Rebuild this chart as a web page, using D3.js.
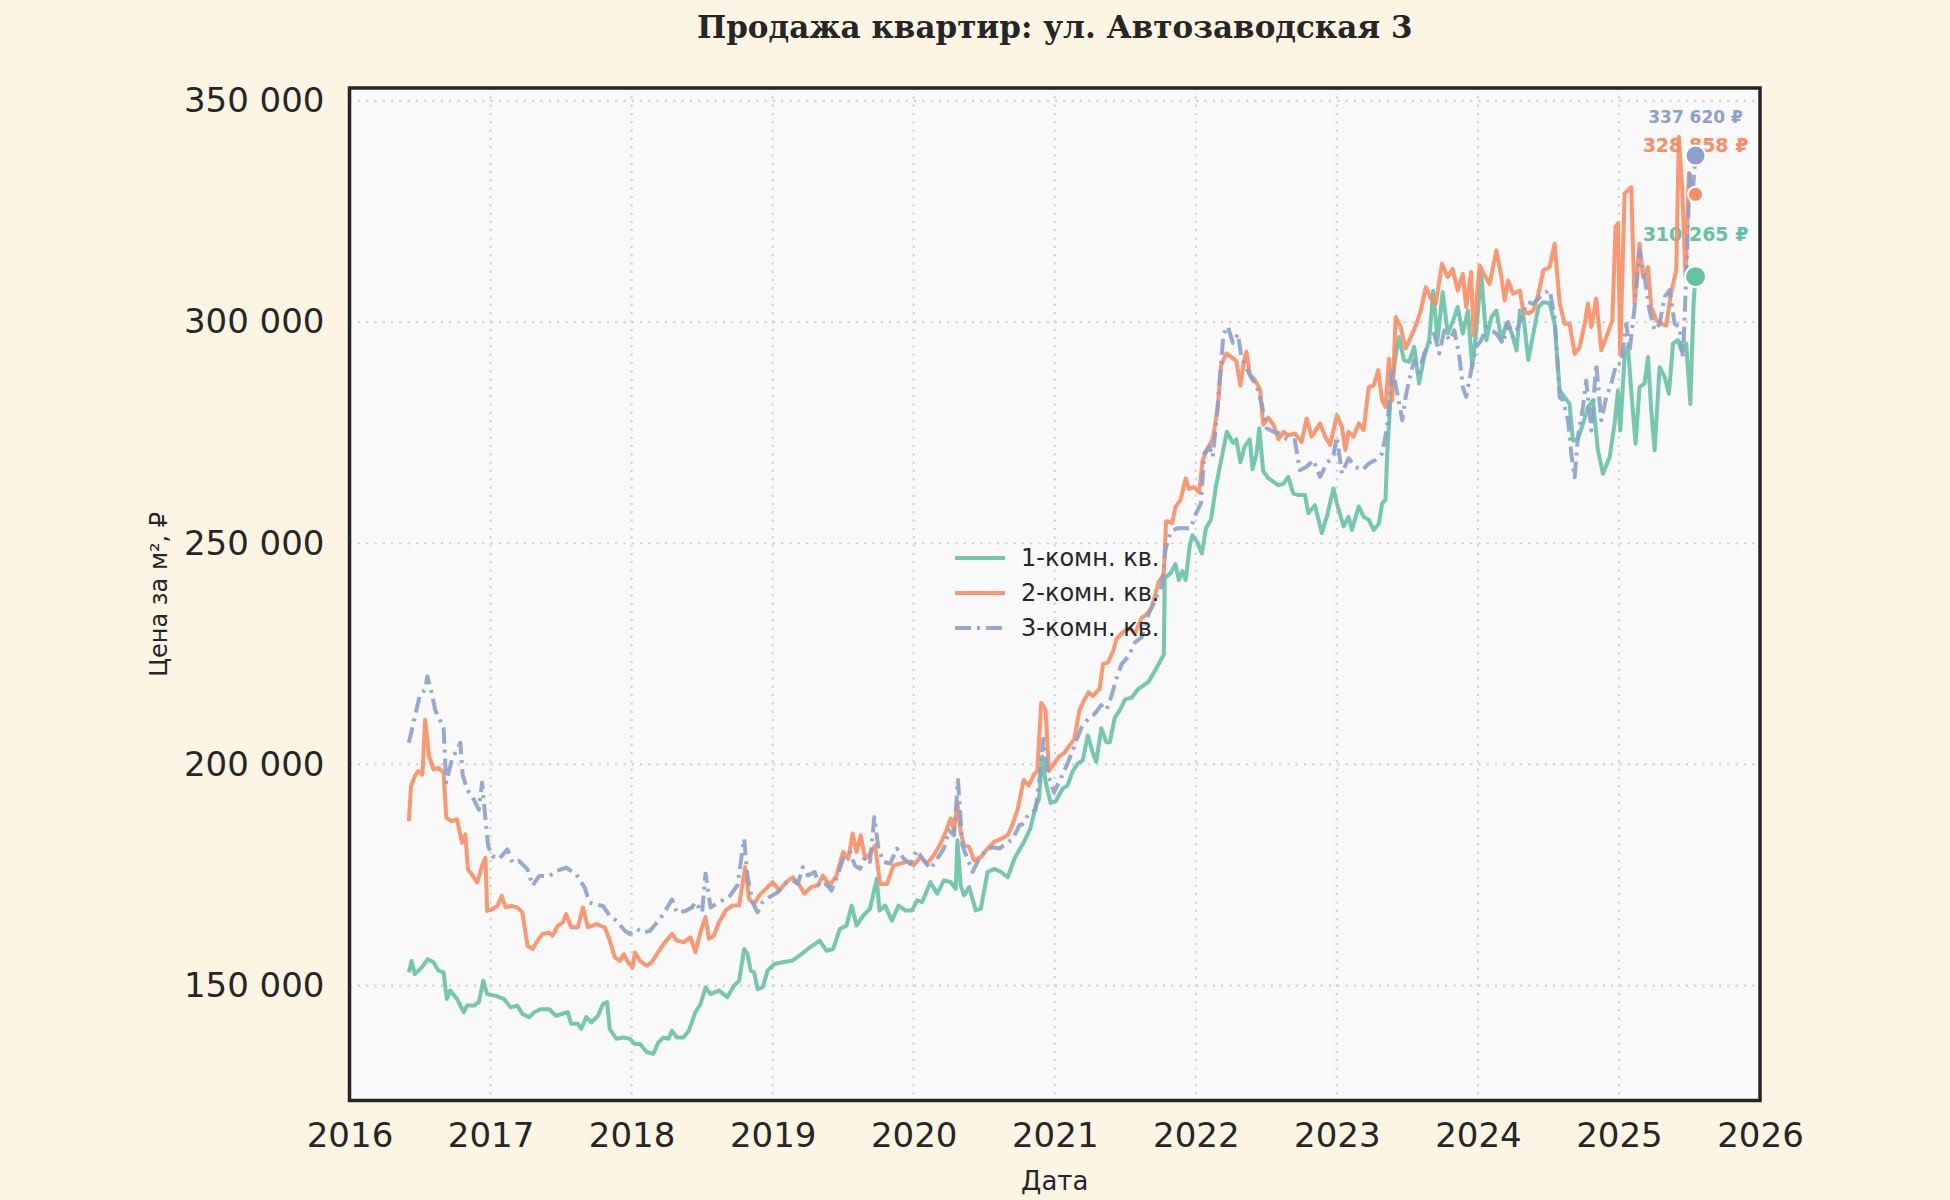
<!DOCTYPE html>
<html lang="ru">
<head>
<meta charset="utf-8">
<title>Продажа квартир: ул. Автозаводская 3</title>
<script src="https://cdn.jsdelivr.net/npm/d3@7"></script>
<style>
  body { margin: 0; background: #fcf5e3; }
  text { font-family: "DejaVu Sans", sans-serif; fill: #262626; }
</style>
</head>
<body>
<div id="chart"></div>
<script>
// --- data (decimal year, price per m2) ---
var seriesNames = ["1-комн. кв.", "2-комн. кв.", "3-комн. кв."];
var yearTicks = [2016, 2017, 2018, 2019, 2020, 2021, 2022, 2023, 2024, 2025, 2026];
var priceTicks = [150000, 200000, 250000, 300000, 350000];

var oneRoom = [
  [2016.421,153000],[2016.440,155600],[2016.464,152600],[2016.512,154100],[2016.555,156000],[2016.595,155300],
  [2016.631,153400],[2016.667,153000],[2016.690,147000],[2016.714,148900],[2016.762,147000],[2016.810,144000],
  [2016.833,145500],[2016.881,145500],[2016.917,146300],[2016.948,151100],[2016.976,148100],[2017.036,147700],
  [2017.095,147000],[2017.143,145100],[2017.190,145500],[2017.226,143600],[2017.274,142900],[2017.310,144000],
  [2017.357,144700],[2017.417,144700],[2017.464,143200],[2017.548,144000],[2017.571,141400],[2017.619,141400],
  [2017.643,140200],[2017.679,142900],[2017.714,141700],[2017.762,143200],[2017.798,145900],[2017.826,146300],
  [2017.845,140200],[2017.893,138000],[2017.940,138300],[2017.988,138000],[2018.024,136800],[2018.060,136800],
  [2018.107,135000],[2018.155,134600],[2018.190,137200],[2018.226,138300],[2018.262,138000],[2018.286,139800],
  [2018.321,138300],[2018.369,138300],[2018.405,139800],[2018.452,144000],[2018.488,145800],[2018.524,149600],
  [2018.560,148100],[2018.619,148900],[2018.679,147400],[2018.726,150000],[2018.762,151100],[2018.798,158300],
  [2018.821,157200],[2018.845,153400],[2018.869,153000],[2018.893,149200],[2018.929,149600],[2018.964,153400],
  [2019.012,154900],[2019.071,155300],[2019.143,155700],[2019.190,156800],[2019.250,158300],[2019.286,159100],
  [2019.333,160200],[2019.381,157900],[2019.429,158300],[2019.476,162800],[2019.524,163600],[2019.560,168100],
  [2019.595,163600],[2019.643,165900],[2019.690,167400],[2019.738,174200],[2019.757,167000],[2019.798,168100],
  [2019.845,164700],[2019.893,168100],[2019.940,167000],[2019.988,167000],[2020.024,169300],[2020.060,168900],
  [2020.119,173400],[2020.167,170800],[2020.214,173800],[2020.262,173400],[2020.298,171900],[2020.310,182900],
  [2020.333,172700],[2020.357,170400],[2020.393,172300],[2020.440,167000],[2020.476,167400],[2020.524,175700],
  [2020.571,176400],[2020.619,175700],[2020.667,174500],[2020.714,178700],[2020.780,182400],[2020.828,185600],
  [2020.864,190500],[2020.888,192100],[2020.911,201800],[2020.935,196100],[2020.971,191300],[2021.007,191700],
  [2021.055,194500],[2021.091,195300],[2021.127,198500],[2021.163,200200],[2021.199,201000],[2021.234,206600],
  [2021.270,202600],[2021.294,200600],[2021.330,208200],[2021.366,205000],[2021.390,205000],[2021.426,210600],
  [2021.462,212300],[2021.498,214700],[2021.545,215100],[2021.593,217100],[2021.629,217900],[2021.665,218700],
  [2021.701,220700],[2021.737,222700],[2021.773,224800],[2021.780,242100],[2021.821,243300],[2021.856,245300],
  [2021.880,241700],[2021.904,243700],[2021.928,241700],[2021.957,249400],[2021.976,251800],[2022.012,250200],
  [2022.043,247700],[2022.072,253400],[2022.108,255400],[2022.144,263100],[2022.179,268700],[2022.220,275200],
  [2022.263,272700],[2022.287,273500],[2022.316,268300],[2022.347,271900],[2022.383,273500],[2022.402,266700],
  [2022.431,270300],[2022.450,276000],[2022.478,266300],[2022.514,264700],[2022.550,263900],[2022.586,263100],
  [2022.622,263500],[2022.655,265000],[2022.690,261300],[2022.726,260900],[2022.774,260900],[2022.798,256800],
  [2022.845,258600],[2022.893,252300],[2022.929,256000],[2022.976,262400],[2023.000,259000],[2023.048,253800],
  [2023.083,256000],[2023.107,253000],[2023.155,258300],[2023.190,256000],[2023.226,255300],[2023.262,253000],
  [2023.298,254500],[2023.321,259000],[2023.345,259800],[2023.357,270300],[2023.381,283100],[2023.412,291400],
  [2023.440,296600],[2023.476,291400],[2023.512,291000],[2023.548,294400],[2023.583,286100],[2023.619,292100],
  [2023.655,295900],[2023.683,307100],[2023.714,295900],[2023.750,306800],[2023.786,297400],[2023.821,300000],
  [2023.857,303400],[2023.893,297400],[2023.929,302600],[2023.960,289800],[2023.988,298100],[2024.024,310900],
  [2024.060,295900],[2024.095,301100],[2024.131,302600],[2024.167,295900],[2024.202,299600],[2024.238,297700],
  [2024.274,293600],[2024.298,302600],[2024.321,301900],[2024.357,291400],[2024.393,297400],[2024.429,303400],
  [2024.464,304500],[2024.509,304200],[2024.544,299600],[2024.580,284500],[2024.615,283000],[2024.650,281500],
  [2024.674,273200],[2024.709,273600],[2024.745,277000],[2024.780,280800],[2024.816,282300],[2024.851,271000],
  [2024.887,265700],[2024.934,269500],[2024.969,277000],[2024.993,284500],[2025.009,275500],[2025.040,292100],
  [2025.064,294400],[2025.087,284500],[2025.118,272500],[2025.146,285300],[2025.182,286100],[2025.206,292100],
  [2025.229,280000],[2025.253,271000],[2025.288,289800],[2025.324,287600],[2025.354,283800],[2025.383,295100],
  [2025.418,295900],[2025.442,293600],[2025.477,295100],[2025.506,281500],[2025.529,304200],[2025.543,310265]
];

var twoRoom = [
  [2016.421,187200],[2016.436,195100],[2016.464,197400],[2016.488,198500],[2016.517,197700],[2016.536,210100],
  [2016.564,201900],[2016.595,198900],[2016.631,199200],[2016.667,198100],[2016.686,188000],[2016.726,187200],
  [2016.762,187600],[2016.798,182300],[2016.821,184200],[2016.840,176300],[2016.874,174800],[2016.905,173300],
  [2016.940,177100],[2016.964,178900],[2016.976,166900],[2017.012,167300],[2017.048,168000],[2017.079,170300],
  [2017.107,167700],[2017.143,168000],[2017.190,167700],[2017.226,166500],[2017.262,159000],[2017.298,158300],
  [2017.333,160200],[2017.369,161700],[2017.417,162000],[2017.440,161300],[2017.476,163500],[2017.512,164300],
  [2017.536,166200],[2017.571,163200],[2017.619,163200],[2017.655,167700],[2017.690,163200],[2017.750,163900],
  [2017.810,163200],[2017.845,160200],[2017.881,156400],[2017.917,155600],[2017.945,157100],[2017.976,155300],
  [2018.007,154100],[2018.024,157500],[2018.060,155600],[2018.107,154500],[2018.143,155300],[2018.179,157100],
  [2018.226,159400],[2018.286,161700],[2018.321,160200],[2018.369,159800],[2018.417,160900],[2018.452,157600],
  [2018.488,162100],[2018.524,165500],[2018.548,160600],[2018.583,161300],[2018.619,164300],[2018.667,167000],
  [2018.714,168100],[2018.762,168100],[2018.805,176800],[2018.833,169600],[2018.869,168500],[2018.905,170400],
  [2018.952,171900],[2019.000,173400],[2019.048,171500],[2019.095,173400],[2019.143,174500],[2019.190,172700],
  [2019.226,170800],[2019.274,172300],[2019.321,172700],[2019.357,174900],[2019.405,172700],[2019.452,174900],
  [2019.500,180200],[2019.536,178700],[2019.567,184400],[2019.595,180200],[2019.624,184000],[2019.655,178700],
  [2019.690,179800],[2019.726,181700],[2019.762,173000],[2019.810,173000],[2019.857,177200],[2019.905,177600],
  [2019.952,178000],[2020.000,177200],[2020.048,179100],[2020.095,177600],[2020.143,179500],[2020.190,182100],
  [2020.226,184700],[2020.262,187800],[2020.286,185100],[2020.310,191500],[2020.333,184700],[2020.357,181700],
  [2020.393,181300],[2020.429,178300],[2020.476,179100],[2020.524,181000],[2020.571,182500],[2020.619,183200],
  [2020.667,184000],[2020.702,186600],[2020.738,190000],[2020.780,196500],[2020.816,195300],[2020.852,197700],
  [2020.876,198500],[2020.904,213900],[2020.935,212300],[2020.959,198500],[2020.995,200200],[2021.031,201800],
  [2021.067,202600],[2021.103,204200],[2021.139,205800],[2021.175,212300],[2021.211,214700],[2021.239,216300],
  [2021.270,215500],[2021.318,217100],[2021.342,222700],[2021.378,223100],[2021.414,225600],[2021.438,228400],
  [2021.486,230000],[2021.533,230800],[2021.569,229600],[2021.617,233200],[2021.653,234000],[2021.689,235600],
  [2021.737,241300],[2021.773,242900],[2021.789,255000],[2021.833,254600],[2021.856,258200],[2021.892,259800],
  [2021.928,264700],[2021.952,262300],[2021.988,262700],[2022.024,261500],[2022.048,268700],[2022.084,271500],
  [2022.120,273500],[2022.156,280800],[2022.179,290100],[2022.215,292900],[2022.251,292100],[2022.287,291300],
  [2022.316,285600],[2022.340,290900],[2022.359,293300],[2022.383,288100],[2022.419,286900],[2022.455,284800],
  [2022.478,276800],[2022.514,278400],[2022.550,276800],[2022.586,273500],[2022.622,275200],[2022.655,274400],
  [2022.702,274800],[2022.750,272900],[2022.786,278200],[2022.821,274100],[2022.881,277100],[2022.917,274100],
  [2022.952,272200],[2023.000,278900],[2023.036,276300],[2023.060,271100],[2023.083,275200],[2023.119,274100],
  [2023.155,277100],[2023.190,275600],[2023.226,285300],[2023.262,285700],[2023.293,289100],[2023.321,282300],
  [2023.345,280800],[2023.369,291700],[2023.393,282300],[2023.417,301100],[2023.452,298900],[2023.488,294000],
  [2023.524,296600],[2023.560,299200],[2023.595,302600],[2023.631,307900],[2023.667,305300],[2023.702,304100],
  [2023.745,313200],[2023.786,310200],[2023.821,312000],[2023.857,307100],[2023.893,310900],[2023.917,303400],
  [2023.952,311300],[2023.969,297000],[2024.012,312800],[2024.048,310500],[2024.083,308600],[2024.131,316200],
  [2024.167,310200],[2024.190,304900],[2024.214,309400],[2024.250,306400],[2024.298,307100],[2024.321,302600],
  [2024.357,301900],[2024.393,302600],[2024.429,306400],[2024.464,311700],[2024.509,312400],[2024.544,317700],
  [2024.580,304200],[2024.615,299600],[2024.650,299600],[2024.686,292800],[2024.721,294300],[2024.757,299600],
  [2024.780,304200],[2024.804,298900],[2024.839,305300],[2024.875,293600],[2024.910,296600],[2024.953,300400],
  [2024.976,321500],[2024.993,322300],[2025.009,292800],[2025.040,329000],[2025.087,330500],[2025.111,304200],
  [2025.146,317700],[2025.170,310200],[2025.206,312400],[2025.229,303400],[2025.265,300400],[2025.300,299600],
  [2025.335,299200],[2025.371,306800],[2025.406,311700],[2025.425,341900],[2025.449,329800],[2025.472,310200],
  [2025.496,333600],[2025.520,329800],[2025.543,328858]
];

var threeRoom = [
  [2016.421,204900],[2016.464,210900],[2016.500,215800],[2016.536,216900],[2016.552,219900],[2016.583,216200],
  [2016.607,212400],[2016.667,208300],[2016.686,195900],[2016.726,201100],[2016.786,204900],[2016.802,197700],
  [2016.833,194400],[2016.881,192100],[2016.917,189800],[2016.940,195900],[2016.964,187600],[2016.983,181600],
  [2017.012,179300],[2017.060,178600],[2017.119,180800],[2017.155,177800],[2017.202,178200],[2017.262,176300],
  [2017.298,172600],[2017.345,174800],[2017.417,174800],[2017.464,175900],[2017.536,176700],[2017.607,175200],
  [2017.667,172200],[2017.702,168800],[2017.738,168400],[2017.798,168000],[2017.845,165800],[2017.893,164700],
  [2017.952,162400],[2017.988,161700],[2018.036,162800],[2018.083,162000],[2018.131,162400],[2018.179,164300],
  [2018.226,166200],[2018.286,169500],[2018.321,166500],[2018.381,166900],[2018.429,167700],[2018.452,168900],
  [2018.500,166600],[2018.524,175300],[2018.560,167700],[2018.619,168900],[2018.690,170000],[2018.750,172700],
  [2018.798,183200],[2018.821,174900],[2018.857,168900],[2018.893,166600],[2018.929,168900],[2018.976,170000],
  [2019.036,171100],[2019.083,173000],[2019.143,173800],[2019.179,173000],[2019.214,176800],[2019.250,174900],
  [2019.298,175700],[2019.333,172300],[2019.381,173000],[2019.417,171500],[2019.452,174200],[2019.500,178700],
  [2019.548,180200],[2019.583,177200],[2019.619,176400],[2019.655,179100],[2019.690,178000],[2019.721,188100],
  [2019.750,181000],[2019.786,178000],[2019.833,177600],[2019.881,181000],[2019.929,178700],[2019.976,177600],
  [2020.024,180600],[2020.071,178300],[2020.119,176400],[2020.167,178700],[2020.214,181000],[2020.250,185100],
  [2020.286,184000],[2020.314,196500],[2020.345,181700],[2020.381,178700],[2020.417,175700],[2020.464,178700],
  [2020.512,180600],[2020.560,181300],[2020.607,181000],[2020.655,182100],[2020.702,183200],[2020.750,186300],
  [2020.768,186400],[2020.816,188900],[2020.864,189700],[2020.895,197700],[2020.919,205800],[2020.952,197700],
  [2020.995,193700],[2021.043,196900],[2021.091,200200],[2021.139,204200],[2021.187,208200],[2021.234,210200],
  [2021.282,211400],[2021.330,213400],[2021.366,212300],[2021.402,215500],[2021.438,219500],[2021.474,222700],
  [2021.522,224400],[2021.569,227600],[2021.617,228800],[2021.665,234000],[2021.713,237300],[2021.761,240500],
  [2021.785,248600],[2021.821,252600],[2021.868,253400],[2021.916,253400],[2021.964,253400],[2022.000,256600],
  [2022.036,259000],[2022.060,270300],[2022.096,271900],[2022.120,269500],[2022.148,278400],[2022.179,290500],
  [2022.196,297300],[2022.227,299000],[2022.263,295300],[2022.299,297300],[2022.323,292100],[2022.359,289700],
  [2022.395,287300],[2022.431,285600],[2022.467,281600],[2022.502,276000],[2022.550,275200],[2022.598,274800],
  [2022.646,273500],[2022.702,273300],[2022.738,266500],[2022.786,267300],[2022.833,268800],[2022.881,265000],
  [2022.929,268000],[2022.976,269900],[2023.000,274100],[2023.036,265800],[2023.083,269200],[2023.131,267300],
  [2023.179,266500],[2023.226,268000],[2023.274,268800],[2023.321,270300],[2023.357,276300],[2023.393,289800],
  [2023.429,283800],[2023.464,277800],[2023.488,283100],[2023.512,286800],[2023.548,291400],[2023.583,288700],
  [2023.619,292900],[2023.655,295100],[2023.690,297400],[2023.726,292900],[2023.762,298100],[2023.798,295900],
  [2023.833,298100],[2023.869,292100],[2023.893,285300],[2023.917,283100],[2023.952,289100],[2023.988,294400],
  [2024.024,295900],[2024.060,298900],[2024.095,298100],[2024.131,297400],[2024.179,295100],[2024.214,300000],
  [2024.250,296600],[2024.286,298900],[2024.321,302300],[2024.357,304500],[2024.393,304100],[2024.429,305300],
  [2024.464,306400],[2024.509,307200],[2024.544,301100],[2024.580,283000],[2024.603,282300],[2024.639,277800],
  [2024.662,270200],[2024.686,264900],[2024.709,274000],[2024.745,280800],[2024.768,286800],[2024.804,275500],
  [2024.839,290600],[2024.875,277800],[2024.910,283000],[2024.946,286100],[2024.981,290600],[2025.017,290600],
  [2025.052,299600],[2025.076,293600],[2025.111,303400],[2025.146,316200],[2025.182,310200],[2025.217,302600],
  [2025.253,298100],[2025.288,299600],[2025.324,305700],[2025.359,307200],[2025.395,299600],[2025.430,298900],
  [2025.454,292100],[2025.477,310200],[2025.501,333600],[2025.524,329800],[2025.543,337620]
];

// --- layout / style ---
var W = 1950, H = 1200;
var margin = { left: 349.5, right: 1760, top: 88, bottom: 1100.5 };
var colors = ["#66c2a5", "#fc8d62", "#8da0cb"];
var dashes = [null, null, "16,6,3,6"];
var markerR = [10.5, 7.5, 10];
var labelDy = [-36, -42, -33];
var labelSize = [19, 19, 17];
var lineW = 4;
var allSeries = [oneRoom, twoRoom, threeRoom];

var svg = d3.select("#chart").append("svg")
    .attr("width", W)
    .attr("height", H);

svg.append("rect")
    .attr("width", W).attr("height", H)
    .attr("fill", "#fcf5e3");

var x = d3.scaleLinear().domain([2016, 2026]).range([margin.left, margin.right]);
var y = d3.scaleLinear().domain([124050, 352900]).range([margin.bottom, margin.top]);

var ru = d3.formatLocale({ decimal: ",", thousands: " ", grouping: [3], currency: ["", " ₽"] });
var fmt = ru.format(",d");

// plot background
svg.append("rect")
    .attr("x", margin.left).attr("y", margin.top)
    .attr("width", margin.right - margin.left)
    .attr("height", margin.bottom - margin.top)
    .attr("fill", "#f9f9f9");

// grid
var grid = svg.append("g").attr("class", "grid");
grid.selectAll(".vg").data(yearTicks.slice(1, -1))
    .enter().append("line")
    .attr("x1", function(d) { return x(d); })
    .attr("x2", function(d) { return x(d); })
    .attr("y1", margin.top).attr("y2", margin.bottom)
    .attr("stroke", "#d2d2d2").attr("stroke-width", 2.2)
    .attr("stroke-dasharray", "2.2,6.1");
grid.selectAll(".hg").data(priceTicks)
    .enter().append("line")
    .attr("x1", margin.left).attr("x2", margin.right)
    .attr("y1", function(d) { return y(d); })
    .attr("y2", function(d) { return y(d); })
    .attr("stroke", "#d2d2d2").attr("stroke-width", 2.2)
    .attr("stroke-dasharray", "2.2,6.1");

// axes (labels only, no tick marks)
var xAxis = d3.axisBottom(x).tickValues(yearTicks).tickFormat(d3.format("d")).tickSize(0).tickPadding(22);
var yAxis = d3.axisLeft(y).tickValues(priceTicks).tickFormat(fmt).tickSize(0).tickPadding(25);

var gx = svg.append("g").attr("transform", "translate(0," + margin.bottom + ")").call(xAxis);
var gy = svg.append("g").attr("transform", "translate(" + margin.left + ",0)").call(yAxis);
[gx, gy].forEach(function(g) {
    g.select(".domain").remove();
    g.selectAll("text")
        .style("font-family", "'DejaVu Sans', sans-serif")
        .style("font-size", "34px")
        .attr("fill", "#262626");
});

// last-value labels (under the lines, as in the original)
var last = allSeries.map(function(s) { return s[s.length - 1]; });
svg.append("g").selectAll("text").data(last)
    .enter().append("text")
    .attr("x", function(d) { return x(d[0]); })
    .attr("y", function(d, i) { return y(d[1]) + labelDy[i]; })
    .attr("text-anchor", "middle")
    .style("font-weight", "bold")
    .style("font-size", function(d, i) { return labelSize[i] + "px"; })
    .style("fill", function(d, i) { return colors[i]; })
    .text(function(d) { return fmt(Math.round(d[1])) + " ₽"; });

// lines
var line = d3.line()
    .x(function(d) { return x(d[0]); })
    .y(function(d) { return y(d[1]); });

svg.append("g").selectAll("path").data(allSeries)
    .enter().append("path")
    .attr("d", line)
    .attr("fill", "none")
    .attr("stroke", function(d, i) { return colors[i]; })
    .attr("stroke-width", lineW)
    .attr("stroke-opacity", 0.9)
    .attr("stroke-linejoin", "round")
    .attr("stroke-dasharray", function(d, i) { return dashes[i]; });

// end markers
svg.append("g").selectAll("circle").data(last)
    .enter().append("circle")
    .attr("cx", function(d) { return x(d[0]); })
    .attr("cy", function(d) { return y(d[1]); })
    .attr("r", function(d, i) { return markerR[i]; })
    .attr("fill", function(d, i) { return colors[i]; })
    .attr("stroke", "#ffffff")
    .attr("stroke-width", 2);

// frame
svg.append("rect")
    .attr("x", margin.left).attr("y", margin.top)
    .attr("width", margin.right - margin.left)
    .attr("height", margin.bottom - margin.top)
    .attr("fill", "none")
    .attr("stroke", "#262626")
    .attr("stroke-width", 3.5);

// legend
var legend = svg.append("g").attr("transform", "translate(955,558)");
var rows = legend.selectAll("g").data(seriesNames)
    .enter().append("g")
    .attr("transform", function(d, i) { return "translate(0," + i * 35 + ")"; });
rows.append("line")
    .attr("x1", 0).attr("x2", 50)
    .attr("stroke", function(d, i) { return colors[i]; })
    .attr("stroke-width", lineW)
    .attr("stroke-opacity", 0.9)
    .attr("stroke-dasharray", function(d, i) { return dashes[i]; });
rows.append("text")
    .attr("x", 66).attr("dy", "0.35em")
    .style("font-size", "24px")
    .text(function(d) { return d; });

// titles
svg.append("text")
    .attr("x", (margin.left + margin.right) / 2).attr("y", 38)
    .attr("text-anchor", "middle")
    .style("font-family", "'DejaVu Serif', serif")
    .style("font-weight", "bold")
    .style("font-size", "31px")
    .text("Продажа квартир: ул. Автозаводская 3");

svg.append("text")
    .attr("x", (margin.left + margin.right) / 2).attr("y", 1190)
    .attr("text-anchor", "middle")
    .style("font-size", "26px")
    .text("Дата");

svg.append("text")
    .attr("transform", "translate(167," + (margin.top + margin.bottom) / 2 + ") rotate(-90)")
    .attr("text-anchor", "middle")
    .style("font-size", "24px")
    .text("Цена за м², ₽");
</script>
</body>
</html>
